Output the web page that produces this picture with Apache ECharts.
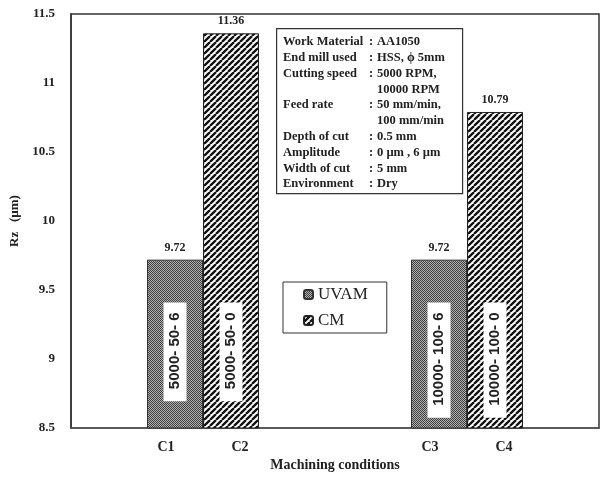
<!DOCTYPE html>
<html>
<head>
<meta charset="utf-8">
<script src="https://cdn.jsdelivr.net/npm/echarts@6/dist/echarts.min.js"></script>
<style>
  html, body { margin: 0; padding: 0; background: #fff; }
  #chart { width: 600px; height: 477px; }
</style>
</head>
<body>
<div id="chart"></div>
<script>
// Spindle speed / feed groups on the category axis
const groups = ['5000-50', '10000-100'];
// Rz values (µm) per group
const uvamValues = [9.72, 9.72];
const cmValues = [11.36, 10.79];
// Condition names and parameter strings, in bar order C1..C4
const conditionLabels = ['C1', 'C2', 'C3', 'C4'];
const paramLabels = ['5000- 50- 6', '5000- 50- 0', '10000- 100- 6', '10000- 100- 0'];
// Y axis range and ticks
const yMin = 8.5, yMax = 11.5, yStep = 0.5;
// Process parameter table
const infoKeys = ['Work Material', 'End mill used', 'Cutting speed', '', 'Feed rate', '', 'Depth of cut', 'Amplitude', 'Width of cut', 'Environment'];
const infoValues = ['AA1050', 'HSS, \u03D5 5mm', '5000 RPM,', '10000 RPM', '50 mm/min,', '100 mm/min', '0.5 mm', '0 \u00B5m , 6 \u00B5m', '5 mm', 'Dry'];

const SERIF = '"Liberation Serif", "Times New Roman", serif';
const SANS = '"Liberation Sans", Arial, sans-serif';
const BAR_W = 56;
const COND_OFFSET = 37;
const PARAM_TOP = 9.41;

// Fill patterns for the two machining modes
function checkerPattern() {
  const c = document.createElement('canvas');
  c.width = 4; c.height = 4;
  const ctx = c.getContext('2d');
  ctx.fillStyle = '#b0b0b0';
  ctx.fillRect(0, 0, 4, 4);
  ctx.fillStyle = '#404040';
  for (let y = 0; y < 4; y++) for (let x = 0; x < 4; x++) if ((x + y) % 2 === 0) ctx.fillRect(x, y, 1, 1);
  return c;
}
function stripePattern() {
  const c = document.createElement('canvas');
  c.width = 6; c.height = 6;
  const ctx = c.getContext('2d');
  ctx.fillStyle = '#ffffff';
  ctx.fillRect(0, 0, 6, 6);
  ctx.strokeStyle = '#111';
  ctx.lineWidth = 2.3;
  ctx.beginPath();
  for (const k of [-6, 0, 6]) { ctx.moveTo(k, 6); ctx.lineTo(k + 6, 0); }
  ctx.stroke();
  return c;
}

const chart = echarts.init(document.getElementById('chart'), null, { renderer: 'canvas' });

const infoGraphics = [{
  type: 'rect', left: 276, top: 28,
  shape: { width: 186, height: 165 },
  style: { fill: '#fff', stroke: '#333', lineWidth: 1.2 }
}];
infoKeys.forEach((k, i) => {
  const y = 42 + i * 15.8;
  const font = 'bold 12.5px ' + SERIF;
  if (k) {
    infoGraphics.push({ type: 'text', x: 283, y: y, style: { text: k, font, fill: '#222', verticalAlign: 'middle' } });
    infoGraphics.push({ type: 'text', x: 369, y: y, style: { text: ':', font, fill: '#222', verticalAlign: 'middle' } });
  }
  infoGraphics.push({ type: 'text', x: 377, y: y, style: { text: infoValues[i], font, fill: '#222', verticalAlign: 'middle' } });
});

const valueLabel = {
  show: true, position: 'top', distance: 6,
  fontFamily: SERIF, fontWeight: 'bold', fontSize: 12, color: '#222'
};

chart.setOption({
  animation: false,
  backgroundColor: '#fff',
  grid: { left: 71, right: 1, top: 14, bottom: 41, show: true, borderColor: '#333', borderWidth: 1.5 },
  legend: {
    orient: 'vertical', left: 283, top: 282,
    padding: [4, 19, 4, 20], itemGap: 9, itemWidth: 9, itemHeight: 9,
    borderColor: '#333', borderWidth: 1, backgroundColor: '#fff',
    textStyle: { fontFamily: SERIF, fontSize: 17, color: '#222' },
    data: ['UVAM', 'CM']
  },
  xAxis: {
    type: 'category', data: groups,
    axisLine: { lineStyle: { color: '#555', width: 1.5 } },
    axisTick: { show: false }, axisLabel: { show: false },
    name: 'Machining conditions', nameLocation: 'middle', nameGap: 30,
    nameTextStyle: { fontFamily: SERIF, fontWeight: 'bold', fontSize: 14, color: '#222' }
  },
  yAxis: {
    type: 'value', min: yMin, max: yMax, interval: yStep,
    axisLine: { show: true, lineStyle: { color: '#333', width: 1.5 } },
    axisTick: { show: false }, splitLine: { show: false },
    axisLabel: { margin: 16, fontFamily: SERIF, fontWeight: 'bold', fontSize: 13, color: '#222' },
    name: 'Rz   (\u00B5m)', nameLocation: 'middle', nameGap: 41,
    nameTextStyle: { fontFamily: SERIF, fontWeight: 'bold', fontSize: 13, color: '#222' }
  },
  graphic: infoGraphics,
  series: [
    {
      name: 'UVAM', type: 'bar', data: uvamValues, barWidth: BAR_W, barGap: '0%',
      itemStyle: { color: { image: checkerPattern(), repeat: 'repeat' }, borderColor: '#333', borderWidth: 1 },
      label: valueLabel
    },
    {
      name: 'CM', type: 'bar', data: cmValues, barWidth: BAR_W, barGap: '0%',
      itemStyle: { color: { image: stripePattern(), repeat: 'repeat' }, borderColor: '#222', borderWidth: 1 },
      label: valueLabel
    },
    {
      // condition names under the axis and parameter tags inside each bar
      type: 'custom', silent: true, z: 10,
      data: [[0, 0], [0, 1], [1, 0], [1, 1]],
      encode: { x: 0 },
      renderItem(params, api) {
        const g = api.value(0), side = api.value(1);
        const base = api.coord([g, yMin]);
        const sign = side ? 1 : -1;
        const xBar = base[0] + sign * BAR_W / 2;
        const xCond = base[0] + sign * COND_OFFSET;
        const top = api.coord([g, PARAM_TOP])[1];
        const i = params.dataIndex;
        return {
          type: 'group',
          children: [
            {
              type: 'text', x: xCond, y: base[1] + 19,
              style: { text: conditionLabels[i], font: 'bold 14px ' + SERIF, fill: '#222', align: 'center', verticalAlign: 'middle' }
            },
            {
              type: 'text', x: xBar, y: top, rotation: Math.PI / 2,
              style: {
                text: paramLabels[i], font: 'bold 15px ' + SANS, fill: '#222',
                align: 'right', verticalAlign: 'middle',
                backgroundColor: '#fff', padding: [4, 10, 4, 12]
              }
            }
          ]
        };
      }
    }
  ]
});
</script>
</body>
</html>
